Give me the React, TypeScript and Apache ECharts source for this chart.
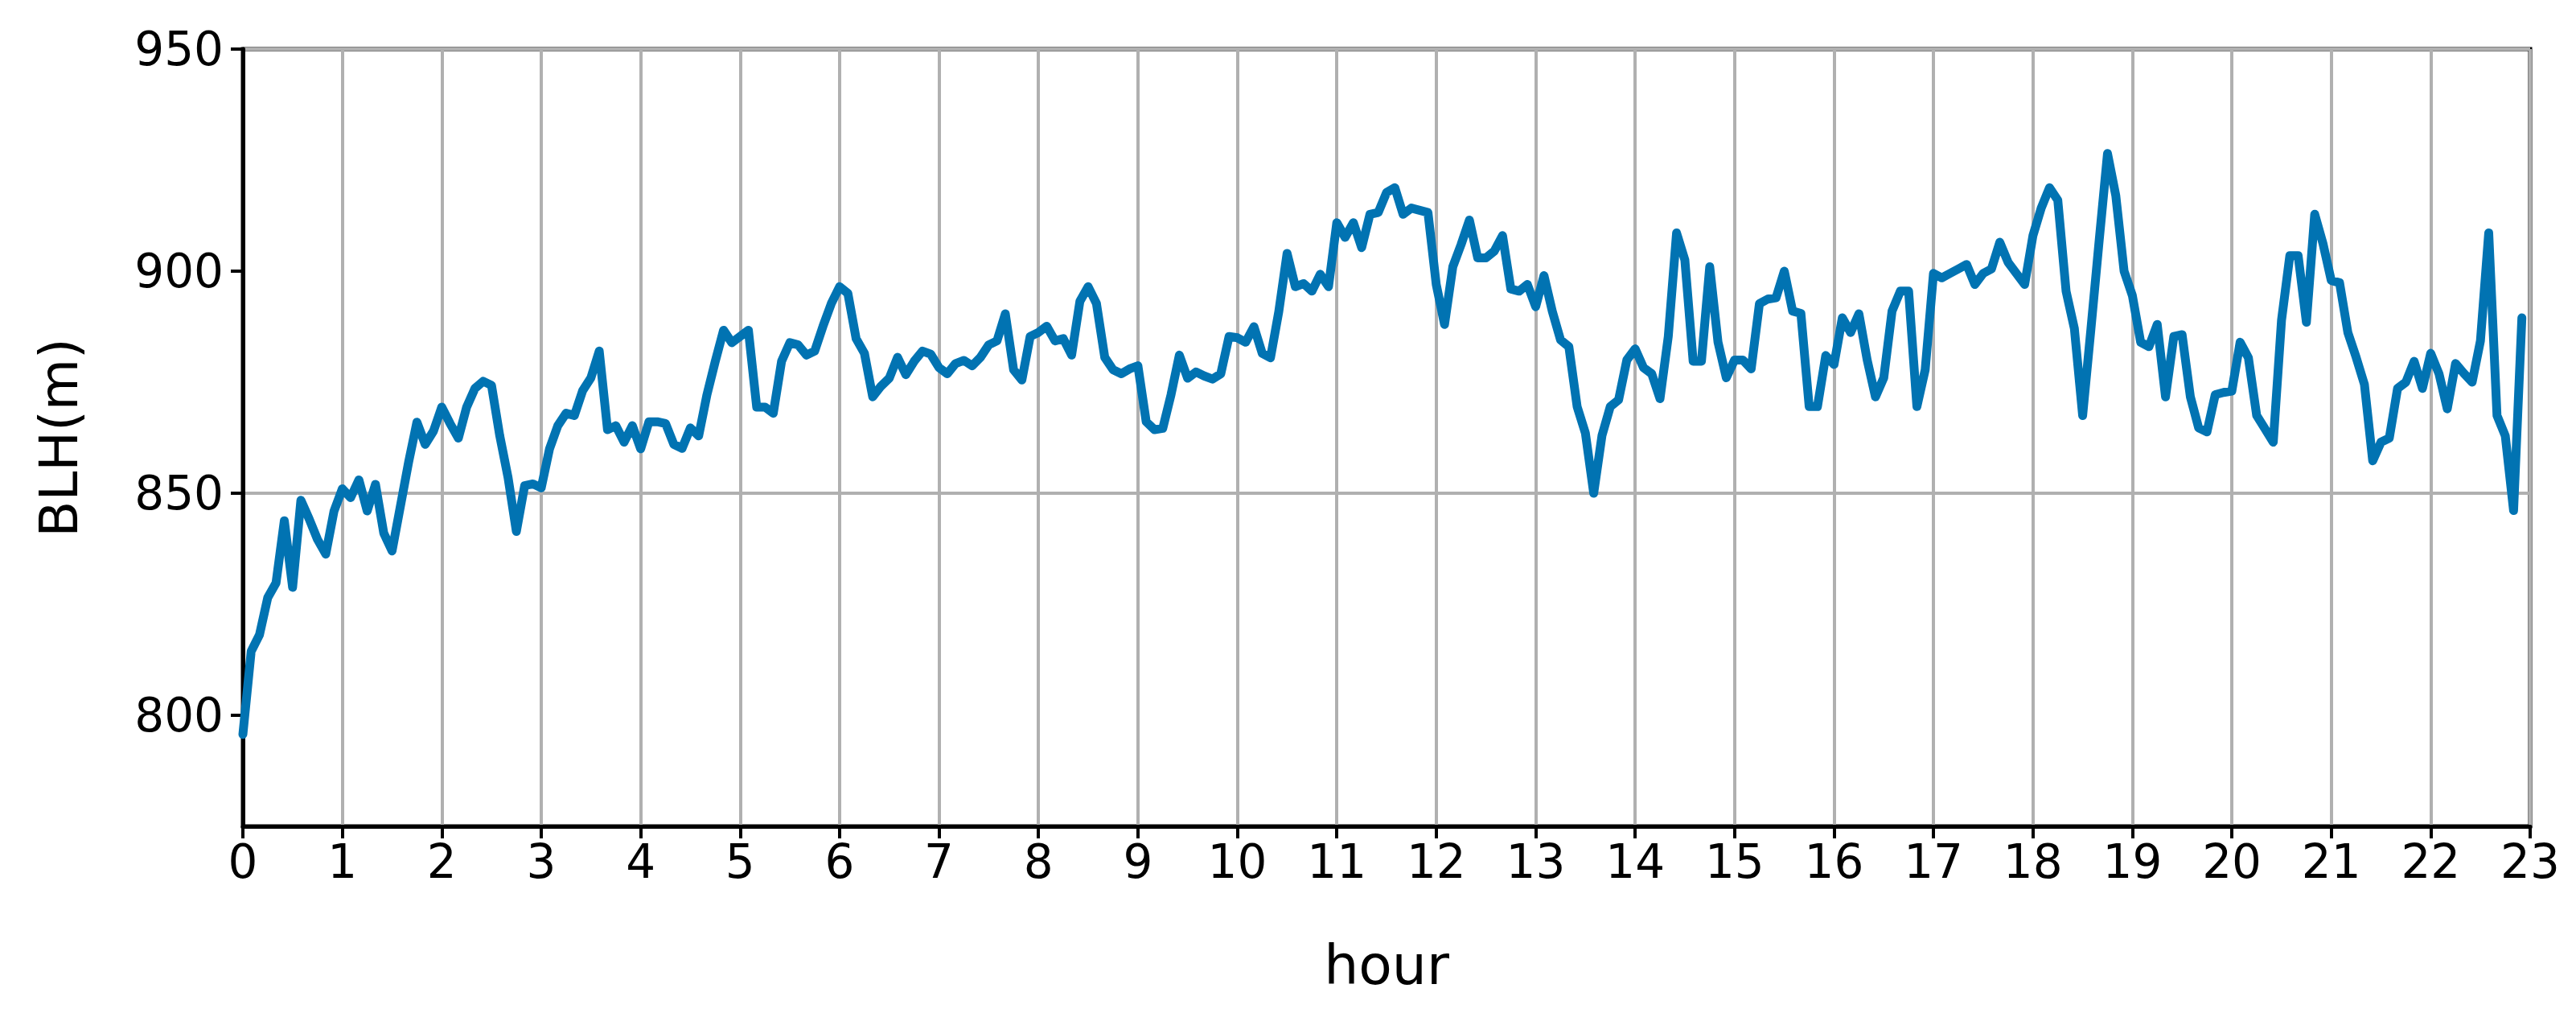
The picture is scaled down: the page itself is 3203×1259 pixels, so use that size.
import React, { useEffect, useRef } from "react";
import * as echarts from "echarts";

// BLH (m) sampled every 5 minutes, one array per hour
const h00 = [795.7, 814.4, 818.1, 826.5, 829.8, 843.8, 828.8, 848.4, 844.2, 839.6, 836.3, 846.0];
const h01 = [851.0, 849.0, 853.0, 846.0, 852.0, 841.0, 837.0, 847.0, 857.0, 866.0, 861.0, 864.0];
const h02 = [869.4, 865.7, 862.4, 869.4, 873.6, 875.2, 874.3, 862.9, 853.5, 841.4, 851.7, 852.1];
const h03 = [851.2, 860.0, 865.2, 868.0, 867.5, 873.1, 876.0, 882.0, 864.3, 865.2, 861.5, 865.2];
const h04 = [860.0, 866.1, 866.1, 865.7, 861.0, 860.1, 864.7, 862.9, 872.2, 879.7, 886.7, 883.9];
const h05 = [885.3, 886.7, 869.4, 869.4, 868.0, 879.7, 883.9, 883.4, 881.1, 882.0, 887.6, 892.7];
const h06 = [896.5, 895.0, 884.8, 881.5, 871.7, 874.1, 875.9, 880.6, 876.7, 879.7, 882.0, 881.3];
const h07 = [878.3, 876.9, 879.2, 879.9, 878.7, 880.6, 883.4, 884.3, 890.4, 877.8, 875.5, 885.3];
const h08 = [886.2, 887.6, 884.3, 884.8, 881.1, 893.2, 896.5, 892.7, 880.6, 877.8, 876.9, 878.0];
const h09 = [878.7, 866.1, 864.3, 864.6, 872.2, 881.1, 875.9, 877.3, 876.4, 875.7, 876.9, 885.3];
const h10 = [885.0, 884.0, 887.5, 881.5, 880.5, 890.9, 904.0, 896.5, 897.2, 895.5, 899.3, 896.5];
const h11 = [910.9, 907.6, 910.9, 905.3, 912.8, 913.2, 917.7, 918.8, 912.8, 914.2, 913.7, 913.2];
const h12 = [897.0, 888.0, 901.0, 906.0, 911.5, 903.0, 903.0, 904.5, 908.0, 896.0, 895.5, 897.0];
const h13 = [892.0, 899.0, 891.0, 884.5, 883.0, 869.5, 863.5, 850.0, 863.0, 869.5, 871.0, 880.0];
const h14 = [882.5, 878.3, 876.9, 871.3, 885.3, 908.6, 902.5, 879.7, 879.7, 901.0, 884.0, 876.0];
const h15 = [880.0, 880.0, 878.0, 892.7, 893.7, 894.0, 900.0, 891.0, 890.5, 869.5, 869.5, 881.0];
const h16 = [879.0, 889.5, 886.2, 890.4, 880.0, 871.7, 876.0, 891.0, 895.5, 895.5, 869.5, 877.8];
const h17 = [899.5, 898.5, 899.5, 900.5, 901.5, 897.0, 899.5, 900.5, 906.5, 902.0, 899.5, 897.0];
const h18 = [908.0, 914.2, 918.8, 916.0, 895.5, 887.1, 867.5, 887.0, 907.0, 926.5, 917.0, 900.0];
const h19 = [894.5, 884.0, 883.0, 888.0, 871.7, 885.3, 885.7, 871.7, 864.7, 863.8, 872.2, 872.7];
const h20 = [873.0, 884.0, 880.5, 867.5, 864.5, 861.5, 889.0, 903.5, 903.5, 888.5, 912.8, 906.2];
const h21 = [897.9, 897.4, 886.2, 880.6, 874.5, 857.3, 861.5, 862.4, 873.6, 875.0, 879.7, 873.6];
const h22 = [881.5, 876.9, 869.0, 879.2, 877.0, 875.0, 884.3, 908.6, 867.5, 862.9, 846.1, 889.5];

const hourlyBlocks = [h00, h01, h02, h03, h04, h05, h06, h07, h08, h09, h10, h11, h12, h13, h14, h15, h16, h17, h18, h19, h20, h21, h22];
const samplesPerHour = 12;

const yTicks = [800, 850, 900, 950];
const xTickLabels = Array.from({ length: 24 }, (_, i) => String(i));

const FONT = "DejaVu Sans";

export default function App() {
  const ref = useRef<HTMLDivElement | null>(null);

  useEffect(() => {
    if (!ref.current) return;
    const chart = echarts.init(ref.current, null, { renderer: "svg" });
    const values = ([] as number[]).concat(...hourlyBlocks);
    const data = values.map((v, i) => [i / samplesPerHour, v]);

    chart.setOption({
      animation: false,
      backgroundColor: "#ffffff",
      grid: {
        left: 302,
        right: 57,
        top: 61,
        bottom: 232,
        show: true,
        borderColor: "#000000",
        borderWidth: 5,
        backgroundColor: "transparent",
      },
      xAxis: {
        type: "value",
        min: 0,
        max: 23,
        interval: 1,
        name: "hour",
        nameLocation: "middle",
        nameGap: 138,
        nameTextStyle: { fontFamily: FONT, fontSize: 68, color: "#000" },
        axisLine: { show: true, lineStyle: { color: "#000", width: 5 } },
        axisTick: { show: true, inside: false, length: 15, lineStyle: { color: "#000", width: 4 } },
        axisLabel: {
          show: true,
          margin: 15,
          fontFamily: FONT,
          fontSize: 58,
          color: "#000",
          formatter: (v: number) => xTickLabels[Math.round(v)] ?? "",
        },
        splitLine: { show: true, lineStyle: { color: "#b0b0b0", width: 4 } },
      },
      yAxis: {
        type: "value",
        min: 775,
        max: 950,
        interval: 25,
        name: "BLH(m)",
        nameLocation: "middle",
        nameGap: 196,
        nameRotate: 90,
        nameTextStyle: { fontFamily: FONT, fontSize: 66, color: "#000" },
        axisLine: { show: true, lineStyle: { color: "#000", width: 5 } },
        axisTick: {
          show: true,
          inside: false,
          length: 15,
          lineStyle: { color: "#000", width: 4 },
          customValues: yTicks,
        },
        axisLabel: {
          show: true,
          margin: 24,
          fontFamily: FONT,
          fontSize: 58,
          color: "#000",
          customValues: yTicks,
        },
        splitLine: { show: true, lineStyle: { color: ["rgba(0,0,0,0)", "#b0b0b0"], width: 4 } },
      },
      series: [
        {
          type: "line",
          data,
          showSymbol: false,
          symbol: "none",
          lineStyle: { color: "#0173b2", width: 11, join: "round", cap: "round" },
          itemStyle: { color: "#0173b2" },
          z: 5,
        },
      ],
    });

    return () => chart.dispose();
  }, []);

  return (
    <div
      ref={ref}
      style={{ position: "fixed", left: 0, top: 0, width: 3203, height: 1259, background: "#fff" }}
    />
  );
}
